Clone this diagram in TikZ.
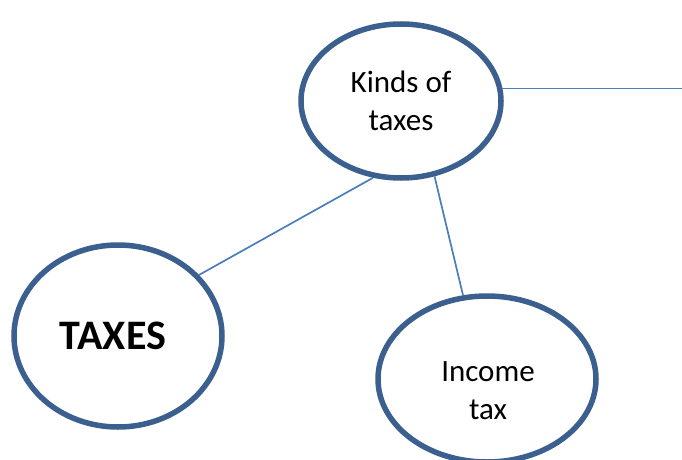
\documentclass[tikz,border=0pt]{standalone}
\usepackage{fontspec}
\setmainfont{Carlito}
\usetikzlibrary{shapes.geometric}
\begin{document}
\begin{tikzpicture}[x=1pt,y=-1pt,
  bubble/.style={draw=ringblue,line width=5.5pt,ellipse,inner sep=0pt},
  link/.style={draw=lineblue,line width=1.7pt},
  txt/.style={font=\fontsize{31}{38}\selectfont,align=center}]
\definecolor{ringblue}{HTML}{3B5F8E}
\definecolor{lineblue}{HTML}{4A7EBB}
\useasboundingbox (0,0) rectangle (682,460);
\node[bubble,minimum width=200pt,minimum height=154pt,txt] (kinds) at (401,101) {Kinds of\\taxes};
\node[bubble,minimum width=208pt,minimum height=182pt,txt,font=\fontsize{42}{50}\selectfont\bfseries] (taxes) at (118,336) {\hspace*{-10pt}TAXES};
\node[bubble,minimum width=218pt,minimum height=166pt] (income) at (487,379) {};
\node[txt] (income-label) at (488,391) {Income\\tax};
\coordinate (edge) at (682,89);
\draw[link] (taxes.37) -- (kinds.250);
\draw[link] (kinds.294) -- (income.106);
\draw[link] (kinds.7) -- (kinds.7 -| edge);
\end{tikzpicture}
\end{document}
